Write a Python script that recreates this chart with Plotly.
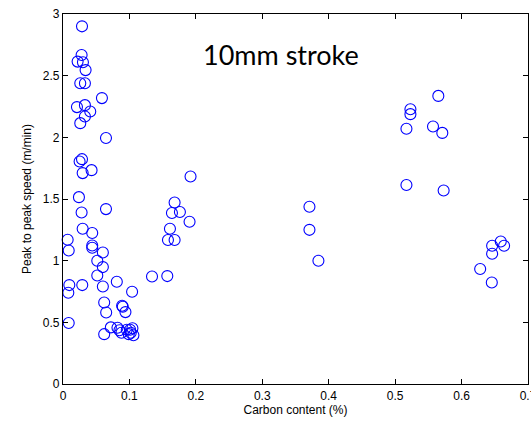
import plotly.graph_objects as go

carbon = [
    0.0286, 0.028, 0.022, 0.030, 0.034, 0.026, 0.033, 0.0586, 0.021, 0.033,
    0.041, 0.033, 0.026, 0.0647, 0.0286, 0.025, 0.043, 0.0296, 0.024, 0.028,
    0.0647, 0.0296, 0.044, 0.007, 0.0086, 0.044, 0.044, 0.060, 0.0516, 0.060,
    0.0516, 0.0095, 0.008, 0.029, 0.060, 0.081, 0.104, 0.134, 0.062, 0.065,
    0.089, 0.090, 0.094, 0.0086,
    0.072, 0.062, 0.082, 0.085, 0.088, 0.096, 0.101, 0.1045, 0.106, 0.102, 0.099,
    0.192, 0.168, 0.164, 0.176, 0.1905, 0.161, 0.158, 0.168, 0.157,
    0.371, 0.371, 0.3845,
    0.565, 0.523, 0.523, 0.517, 0.557, 0.571, 0.517, 0.573,
    0.659, 0.664, 0.646, 0.646, 0.628, 0.6455,
]
speed = [
    2.90, 2.668, 2.614, 2.609, 2.545, 2.439, 2.439, 2.318, 2.245, 2.261,
    2.209, 2.169, 2.115, 1.994, 1.823, 1.804, 1.734, 1.710, 1.515, 1.391,
    1.418, 1.259, 1.224, 1.169, 1.083, 1.123, 1.105, 1.066, 0.999, 0.948,
    0.880, 0.802, 0.740, 0.802, 0.791, 0.829, 0.748, 0.872, 0.661, 0.580,
    0.634, 0.626, 0.583, 0.494,
    0.459, 0.404, 0.456, 0.436, 0.416, 0.440, 0.440, 0.452, 0.395, 0.416, 0.404,
    1.682, 1.472, 1.386, 1.394, 1.315, 1.259, 1.167, 1.167, 0.875,
    1.437, 1.250, 0.999,
    2.336, 2.228, 2.188, 2.069, 2.088, 2.036, 1.613, 1.569,
    1.156, 1.121, 1.121, 1.056, 0.932, 0.823,
]

x_ticks = [0, 0.1, 0.2, 0.3, 0.4, 0.5, 0.6, 0.7]
x_tick_labels = ["0", "0.1", "0.2", "0.3", "0.4", "0.5", "0.6", "0.7"]
y_ticks = [0, 0.5, 1, 1.5, 2, 2.5, 3]
y_tick_labels = ["0", "0.5", "1", "1.5", "2", "2.5", "3"]

FONT = "Liberation Sans"

fig = go.Figure()
fig.add_trace(go.Scatter(
    x=carbon, y=speed, mode="markers",
    marker=dict(symbol="circle-open", size=11, color="#0000FF",
                line=dict(width=1.1, color="#0000FF")),
    showlegend=False, cliponaxis=False,
))

axis_common = dict(
    showline=True, linecolor="black", linewidth=1.3, mirror="ticks",
    ticks="inside", ticklen=5, tickwidth=1, tickcolor="black",
    showgrid=False, zeroline=False, automargin=False,
    tickfont=dict(family=FONT, size=12, color="black"),
)

fig.update_xaxes(
    range=[0, 0.7], tickvals=x_ticks, ticktext=x_tick_labels,
    ticklabeloverflow="allow",
    title=dict(text="Carbon content (%)", standoff=3,
               font=dict(family=FONT, size=12, color="black")),
    **axis_common,
)
fig.update_yaxes(
    range=[0, 3], tickvals=y_ticks, ticktext=y_tick_labels,
    title=dict(text="Peak to peak speed (m/min)", standoff=8,
               font=dict(family=FONT, size=12, color="black")),
    **axis_common,
)

fig.add_annotation(
    x=0.328, y=2.67, xref="x", yref="y", text="10mm stroke", showarrow=False,
    font=dict(family="Lato", size=27, color="black"),
)

fig.update_layout(
    width=531, height=425,
    margin=dict(l=63, r=3, t=14, b=41),
    plot_bgcolor="white", paper_bgcolor="white",
)

fig.write_html("out.html")
